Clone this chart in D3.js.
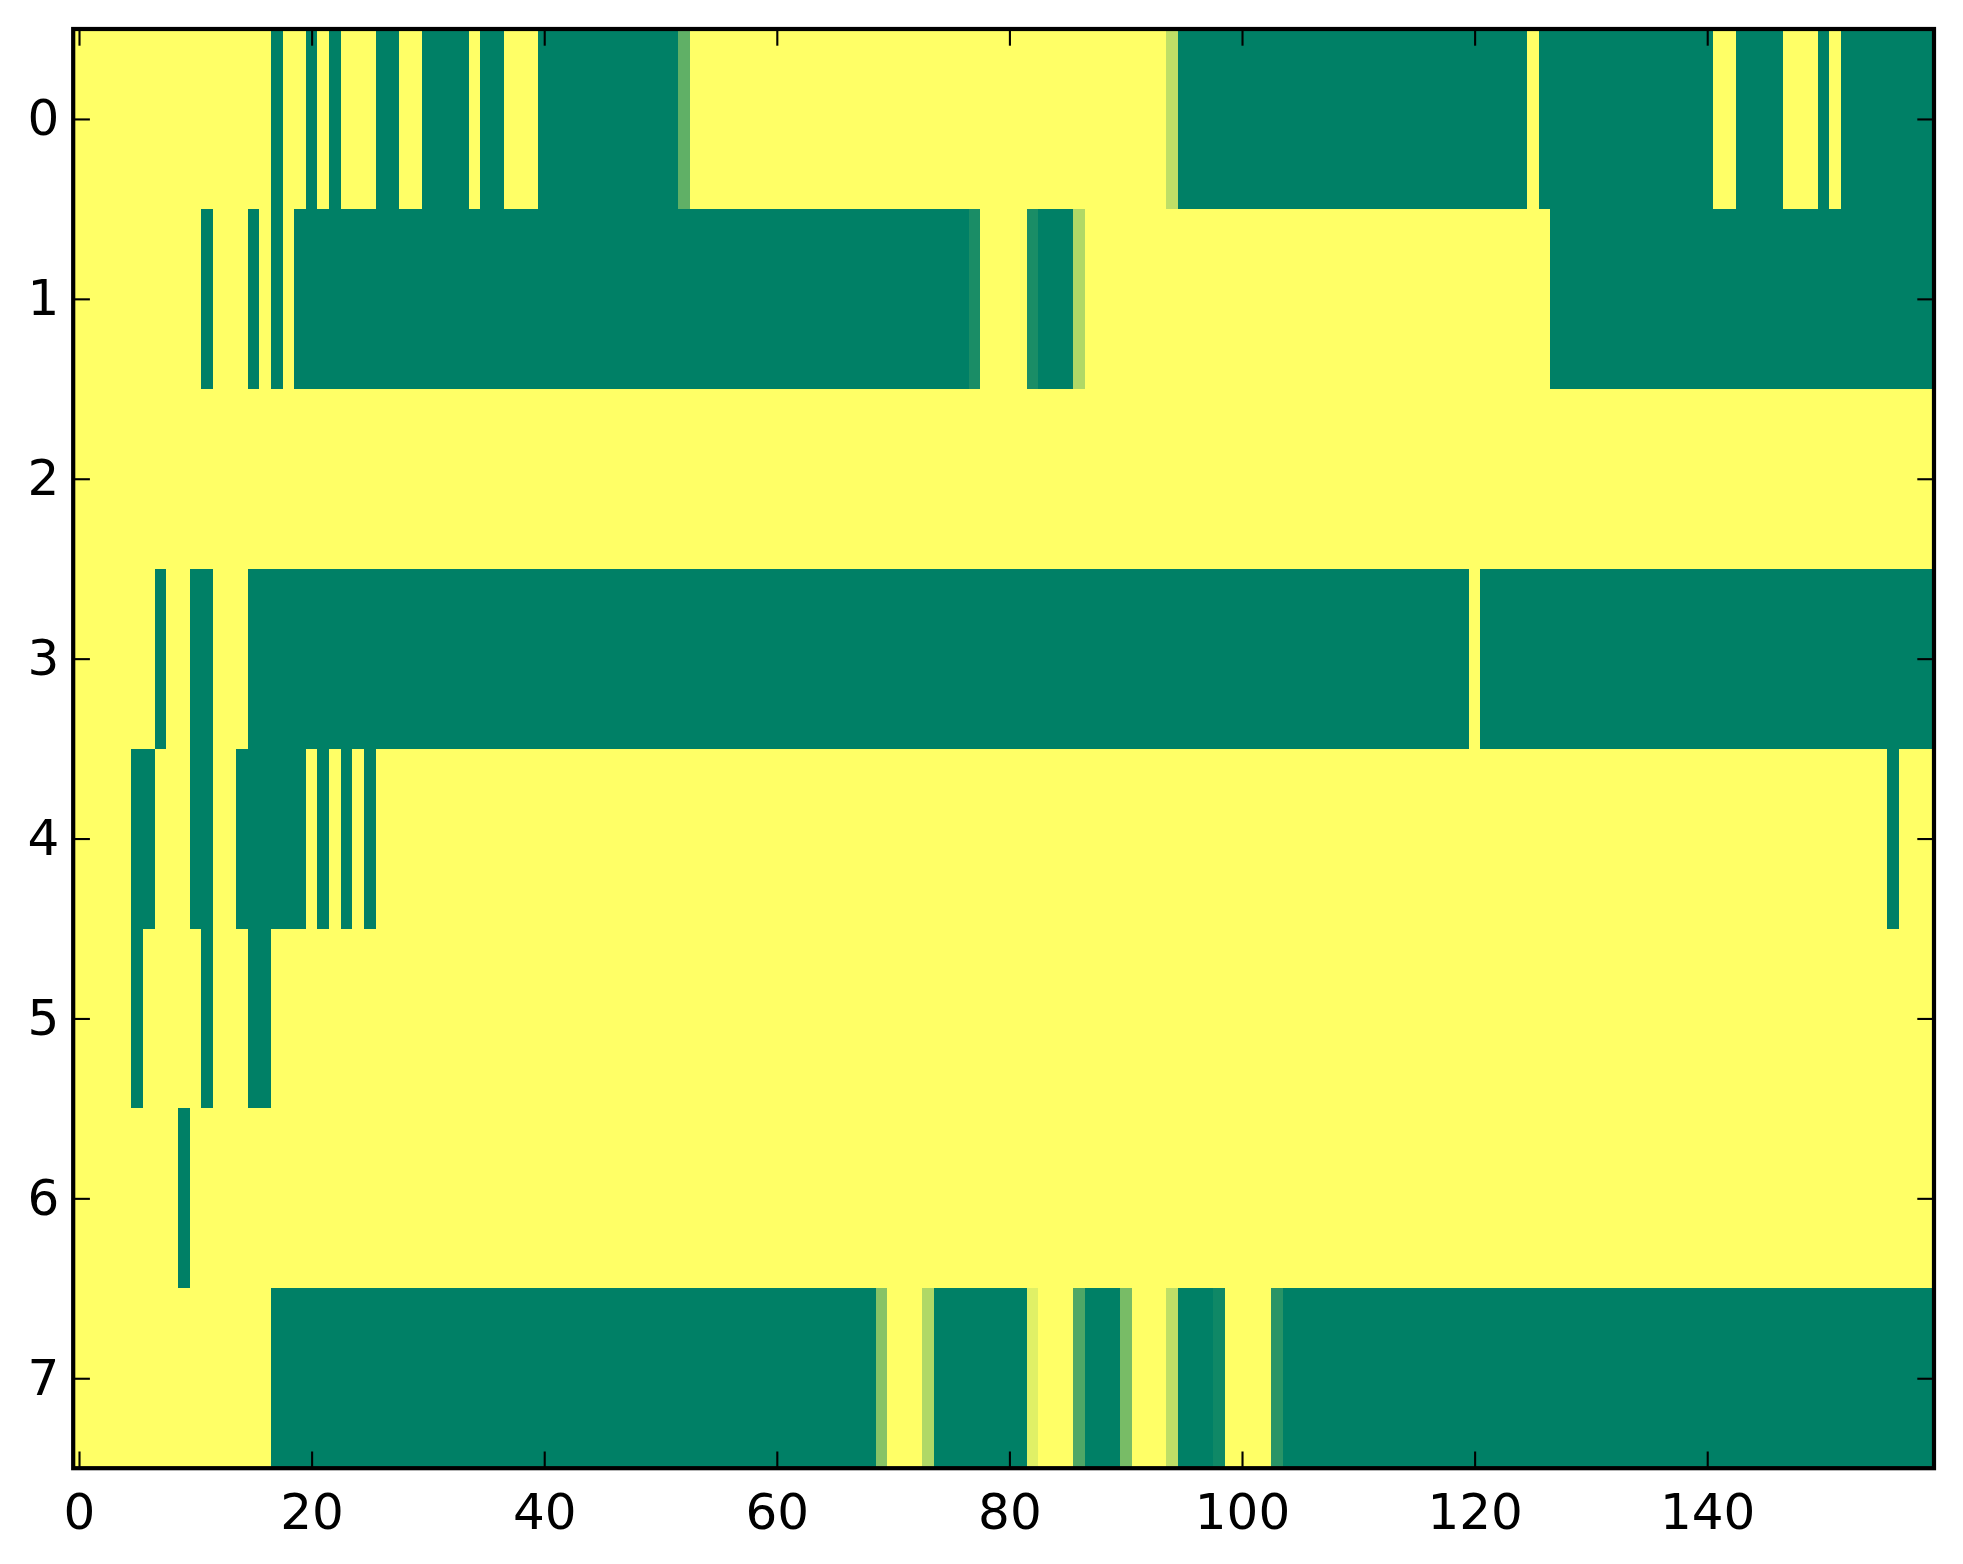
<!DOCTYPE html>
<html>
<head>
<meta charset="utf-8">
<script src="https://cdn.jsdelivr.net/npm/d3@7"></script>
<style>
  html, body { margin: 0; padding: 0; background: #ffffff; }
  svg { display: block; }
</style>
</head>
<body>
<svg id="chart" width="1963" height="1564"></svg>
<script>
// ---- data (0 = green, 1 = yellow) ----
const rowLabels = [0, 1, 2, 3, 4, 5, 6, 7];
const xTickValues = [0, 20, 40, 60, 80, 100, 120, 140];

const row0 = [
  1,1,1,1,1,1,1,1,1,1,
  1,1,1,1,1,1,1,0,1,1,
  0,1,0,1,1,1,0,0,1,1,
  0,0,0,0,1,0,0,1,1,1,
  0,0,0,0,0,0,0,0,0,0,
  0,0,0.375,1,1,1,1,1,1,1,
  1,1,1,1,1,1,1,1,1,1,
  1,1,1,1,1,1,1,1,1,1,
  1,1,1,1,1,1,1,1,1,1,
  1,1,1,1,0.75,0,0,0,0,0,
  0,0,0,0,0,0,0,0,0,0,
  0,0,0,0,0,0,0,0,0,0,
  0,0,0,0,0,1,0,0,0,0,
  0,0,0,0,0,0,0,0,0,0,
  0,1,1,0,0,0,0,1,1,1,
  0,1,0,0,0,0,0,0,0,0
];
const row1 = [
  1,1,1,1,1,1,1,1,1,1,
  1,0,1,1,1,0,1,0,1,0,
  0,0,0,0,0,0,0,0,0,0,
  0,0,0,0,0,0,0,0,0,0,
  0,0,0,0,0,0,0,0,0,0,
  0,0,0,0,0,0,0,0,0,0,
  0,0,0,0,0,0,0,0,0,0,
  0,0,0,0,0,0,0,0.1,1,1,
  1,1,0.1,0,0,0,0.69,1,1,1,
  1,1,1,1,1,1,1,1,1,1,
  1,1,1,1,1,1,1,1,1,1,
  1,1,1,1,1,1,1,1,1,1,
  1,1,1,1,1,1,1,0,0,0,
  0,0,0,0,0,0,0,0,0,0,
  0,0,0,0,0,0,0,0,0,0,
  0,0,0,0,0,0,0,0,0,0
];
const row2 = [
  1,1,1,1,1,1,1,1,1,1,
  1,1,1,1,1,1,1,1,1,1,
  1,1,1,1,1,1,1,1,1,1,
  1,1,1,1,1,1,1,1,1,1,
  1,1,1,1,1,1,1,1,1,1,
  1,1,1,1,1,1,1,1,1,1,
  1,1,1,1,1,1,1,1,1,1,
  1,1,1,1,1,1,1,1,1,1,
  1,1,1,1,1,1,1,1,1,1,
  1,1,1,1,1,1,1,1,1,1,
  1,1,1,1,1,1,1,1,1,1,
  1,1,1,1,1,1,1,1,1,1,
  1,1,1,1,1,1,1,1,1,1,
  1,1,1,1,1,1,1,1,1,1,
  1,1,1,1,1,1,1,1,1,1,
  1,1,1,1,1,1,1,1,1,1
];
const row3 = [
  1,1,1,1,1,1,1,0,1,1,
  0,0,1,1,1,0,0,0,0,0,
  0,0,0,0,0,0,0,0,0,0,
  0,0,0,0,0,0,0,0,0,0,
  0,0,0,0,0,0,0,0,0,0,
  0,0,0,0,0,0,0,0,0,0,
  0,0,0,0,0,0,0,0,0,0,
  0,0,0,0,0,0,0,0,0,0,
  0,0,0,0,0,0,0,0,0,0,
  0,0,0,0,0,0,0,0,0,0,
  0,0,0,0,0,0,0,0,0,0,
  0,0,0,0,0,0,0,0,0,0,
  1,0,0,0,0,0,0,0,0,0,
  0,0,0,0,0,0,0,0,0,0,
  0,0,0,0,0,0,0,0,0,0,
  0,0,0,0,0,0,0,0,0,0
];
const row4 = [
  1,1,1,1,1,0,0,1,1,1,
  0,0,1,1,0,0,0,0,0,0,
  1,0,1,0,1,0,1,1,1,1,
  1,1,1,1,1,1,1,1,1,1,
  1,1,1,1,1,1,1,1,1,1,
  1,1,1,1,1,1,1,1,1,1,
  1,1,1,1,1,1,1,1,1,1,
  1,1,1,1,1,1,1,1,1,1,
  1,1,1,1,1,1,1,1,1,1,
  1,1,1,1,1,1,1,1,1,1,
  1,1,1,1,1,1,1,1,1,1,
  1,1,1,1,1,1,1,1,1,1,
  1,1,1,1,1,1,1,1,1,1,
  1,1,1,1,1,1,1,1,1,1,
  1,1,1,1,1,1,1,1,1,1,
  1,1,1,1,1,1,0,1,1,1
];
const row5 = [
  1,1,1,1,1,0,1,1,1,1,
  1,0,1,1,1,0,0,1,1,1,
  1,1,1,1,1,1,1,1,1,1,
  1,1,1,1,1,1,1,1,1,1,
  1,1,1,1,1,1,1,1,1,1,
  1,1,1,1,1,1,1,1,1,1,
  1,1,1,1,1,1,1,1,1,1,
  1,1,1,1,1,1,1,1,1,1,
  1,1,1,1,1,1,1,1,1,1,
  1,1,1,1,1,1,1,1,1,1,
  1,1,1,1,1,1,1,1,1,1,
  1,1,1,1,1,1,1,1,1,1,
  1,1,1,1,1,1,1,1,1,1,
  1,1,1,1,1,1,1,1,1,1,
  1,1,1,1,1,1,1,1,1,1,
  1,1,1,1,1,1,1,1,1,1
];
const row6 = [
  1,1,1,1,1,1,1,1,1,0,
  1,1,1,1,1,1,1,1,1,1,
  1,1,1,1,1,1,1,1,1,1,
  1,1,1,1,1,1,1,1,1,1,
  1,1,1,1,1,1,1,1,1,1,
  1,1,1,1,1,1,1,1,1,1,
  1,1,1,1,1,1,1,1,1,1,
  1,1,1,1,1,1,1,1,1,1,
  1,1,1,1,1,1,1,1,1,1,
  1,1,1,1,1,1,1,1,1,1,
  1,1,1,1,1,1,1,1,1,1,
  1,1,1,1,1,1,1,1,1,1,
  1,1,1,1,1,1,1,1,1,1,
  1,1,1,1,1,1,1,1,1,1,
  1,1,1,1,1,1,1,1,1,1,
  1,1,1,1,1,1,1,1,1,1
];
const row7 = [
  1,1,1,1,1,1,1,1,1,1,
  1,1,1,1,1,1,1,0,0,0,
  0,0,0,0,0,0,0,0,0,0,
  0,0,0,0,0,0,0,0,0,0,
  0,0,0,0,0,0,0,0,0,0,
  0,0,0,0,0,0,0,0,0,0,
  0,0,0,0,0,0,0,0,0,0.53,
  1,1,1,0.69,0,0,0,0,0,0,
  0,0,0.88,1,1,1,0.31,0,0,0,
  0.47,1,1,1,0.75,0,0,0,0.06,1,
  1,1,1,0.16,0,0,0,0,0,0,
  0,0,0,0,0,0,0,0,0,0,
  0,0,0,0,0,0,0,0,0,0,
  0,0,0,0,0,0,0,0,0,0,
  0,0,0,0,0,0,0,0,0,0,
  0,0,0,0,0,0,0,0,0,0
];
const rows = [row0, row1, row2, row3, row4, row5, row6, row7];

// ---- layout ----
const svg = d3.select("#chart");
const plotLeft = 73.2, plotRight = 1934, plotTop = 29, plotBottom = 1468.2;
const nCols = row0.length;

const x = d3.scaleLinear().domain([-0.5, nCols - 0.5]).range([plotLeft, plotRight]);
const y = d3.scaleLinear().domain([-0.5, rows.length - 0.5]).range([plotTop, plotBottom]);
// matplotlib "summer" colormap: linear from (0,0.5,0.4) to (1,1,0.4)
const color = d3.scaleLinear().domain([0, 1]).range(["#008066", "#ffff66"]);

const cells = [];
rows.forEach((r, ri) => r.forEach((v, ci) => cells.push({ r: ri, c: ci, v: v })));

svg.append("g")
  .attr("shape-rendering", "crispEdges")
  .selectAll("rect")
  .data(cells)
  .join("rect")
  .attr("x", d => x(d.c - 0.5))
  .attr("y", d => y(d.r - 0.5))
  .attr("width", d => x(d.c + 0.5) - x(d.c - 0.5) + 0.4)
  .attr("height", d => y(d.r + 0.5) - y(d.r - 0.5) + 0.4)
  .attr("fill", d => color(d.v));

// ---- axes (matplotlib classic: ticks inside on all four sides) ----
const tickLen = 16.7;
const fontFamily = "'DejaVu Sans', sans-serif";

function styleAxis(g) {
  g.select(".domain").remove();
  g.selectAll(".tick line").attr("stroke", "#000").attr("stroke-width", 2.1);
  g.selectAll(".tick text")
    .attr("fill", "#000")
    .style("font-family", fontFamily)
    .style("font-size", "50px");
}

svg.append("g")
  .attr("transform", `translate(0,${plotBottom})`)
  .call(d3.axisBottom(x).tickValues(xTickValues).tickFormat(d3.format("d"))
    .tickSizeInner(-tickLen).tickSizeOuter(0).tickPadding(25.5))
  .call(styleAxis);

svg.append("g")
  .attr("transform", `translate(0,${plotTop})`)
  .call(d3.axisTop(x).tickValues(xTickValues).tickFormat("")
    .tickSizeInner(-tickLen).tickSizeOuter(0))
  .call(styleAxis);

svg.append("g")
  .attr("transform", `translate(${plotLeft},0)`)
  .call(d3.axisLeft(y).tickValues(rowLabels).tickFormat(d3.format("d"))
    .tickSizeInner(-tickLen).tickSizeOuter(0).tickPadding(14))
  .call(styleAxis);

svg.append("g")
  .attr("transform", `translate(${plotRight},0)`)
  .call(d3.axisRight(y).tickValues(rowLabels).tickFormat("")
    .tickSizeInner(-tickLen).tickSizeOuter(0))
  .call(styleAxis);

// frame (spines)
svg.append("rect")
  .attr("x", plotLeft).attr("y", plotTop)
  .attr("width", plotRight - plotLeft).attr("height", plotBottom - plotTop)
  .attr("fill", "none").attr("stroke", "#000").attr("stroke-width", 4.2);
</script>
</body>
</html>
